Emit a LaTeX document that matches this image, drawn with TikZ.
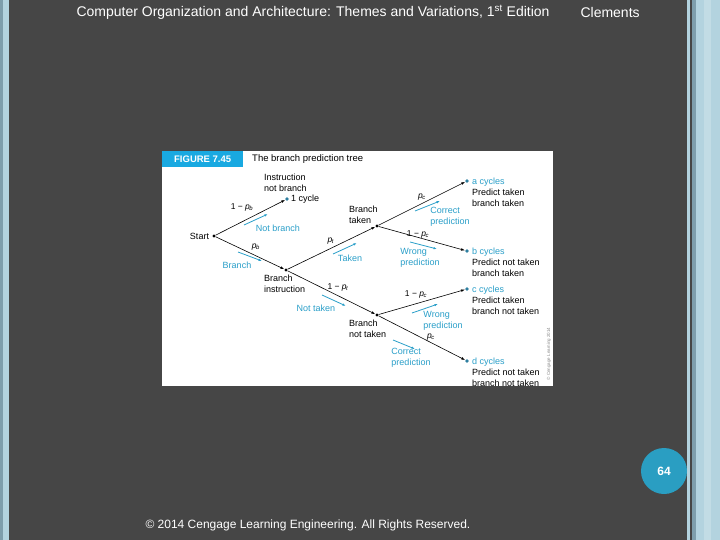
\documentclass[tikz,border=0pt]{standalone}
\usepackage{fontspec}
\setmainfont{Liberation Sans}
\usepackage{tikz}
\usetikzlibrary{arrows.meta, positioning}
\definecolor{slidebg}{HTML}{464646}
\definecolor{edgeblue}{HTML}{B3D3DF}
\definecolor{edgeslate}{HTML}{7E9EAC}
\definecolor{figblue}{HTML}{19A9E1}
\definecolor{hintcyan}{HTML}{2A9FC9}
\definecolor{leafblue}{HTML}{2E7FA0}
\definecolor{pagecirc}{HTML}{2A9EC2}
\newcommand{\prob}[1]{\textit{p}\textsubscript{\kern-0.5pt\textit{#1}}}

\begin{document}
\begin{tikzpicture}[
    x=1pt, y=-1pt,
    dot/.style={circle, fill=black, inner sep=0pt, minimum size=3.2pt},
    leaf/.style={circle, fill=leafblue, inner sep=0pt, minimum size=3.6pt},
    branch/.style={-{Latex[length=4pt,width=2.6pt]}, semithick},
    hint/.style={-{Latex[length=3.5pt,width=2.4pt]}, hintcyan, thick},
    lbl/.style={font=\fontsize{9}{11}\selectfont, inner sep=1pt},
    hlbl/.style={lbl, text=hintcyan},
    plbl/.style={font=\fontsize{8.5}{10}\selectfont, inner sep=0pt},
  ]
  \useasboundingbox (0,0) rectangle (720,540);
  % slide background and side strips
  \fill[slidebg] (0,0) rectangle (720,540);
  \fill[edgeslate] (0,0) rectangle (3,540);
  \fill[edgeblue] (3,0) rectangle (9,540);
  \fill[edgeblue] (687,0) rectangle (690,540);
  \fill[edgeslate] (692,0) rectangle (696,540);
  \fill[edgeblue] (696,0) rectangle (720,540);
  \fill[edgeblue!80!white] (704,0) rectangle (711,540);
  % slide header and footer
  \node[anchor=west, text=white, font=\fontsize{14}{16}\selectfont] (header) at (73,12)
    {Computer Organization and Architecture: Themes and Variations, 1\textsuperscript{st} Edition};
  \node[anchor=west, text=white, font=\fontsize{14}{16}\selectfont] (author) at (577,12) {Clements};
  \node[anchor=west, text=white, font=\fontsize{12}{14}\selectfont] (footer) at (142,525)
    {© 2014 Cengage Learning Engineering. All Rights Reserved.};
  \node[circle, fill=pagecirc, minimum size=46pt, inner sep=0pt, text=white,
    font=\fontsize{12}{14}\selectfont\bfseries] (pagenum) at (664,471) {64};
  % figure panel
  \fill[white] (162,151) rectangle (553,386);
  \node[fill=figblue, text=white, font=\fontsize{9.5}{11}\selectfont\bfseries,
    minimum width=81pt, minimum height=16pt, inner sep=0pt, anchor=north west] (fignum) at (162,151) {FIGURE 7.45};
  \node[lbl, anchor=west, font=\fontsize{9.5}{11}\selectfont] (figtitle) at (251,159) {The branch prediction tree};
  \node[rotate=90, anchor=west, text=black!45, font=\fontsize{4.5}{5}\selectfont] (credit) at (549,384)
    {© Cengage Learning 2014};
  % tree nodes
  \node[dot] (start) at (214,236) {};
  \node[leaf] (nobr) at (287,199) {};
  \node[dot] (brinstr) at (286,270) {};
  \node[dot] (taken) at (377,226) {};
  \node[dot] (nottaken) at (377,315) {};
  \node[leaf] (ca) at (467,181) {};
  \node[leaf] (cb) at (467,251) {};
  \node[leaf] (cc) at (467,289) {};
  \node[leaf] (cd) at (467,361) {};
  % branches
  \draw[branch] (start) -- (nobr);
  \draw[branch] (start) -- (brinstr);
  \draw[branch] (brinstr) -- (taken);
  \draw[branch] (brinstr) -- (nottaken);
  \draw[branch] (taken) -- (ca);
  \draw[branch] (taken) -- (cb);
  \draw[branch] (nottaken) -- (cc);
  \draw[branch] (nottaken) -- (cd);
  % node texts
  \node[lbl, left=2pt of start] (startlbl) {Start};
  \node[lbl, align=left, anchor=south west] (nobrlbl) at (263,192.5) {Instruction\\not branch};
  \node[lbl, right=1pt of nobr] (onecyc) {1 cycle};
  \node[lbl, align=left, anchor=north west] (brinstrlbl) at (263,274) {Branch\\instruction};
  \node[lbl, align=left, anchor=south west] (takenlbl) at (348,225) {Branch\\taken};
  \node[lbl, align=left, anchor=north west] (nottakenlbl) at (348,319) {Branch\\not taken};
  \foreach \leafnode/\cyc/\pred/\act in {ca/a/taken/taken, cb/b/not taken/taken,
      cc/c/taken/not taken, cd/d/not taken/not taken}
    \node[lbl, align=left, anchor=north west] (\leafnode lbl) at ([xshift=4pt, yshift=4pt]\leafnode)
      {\textcolor{hintcyan}{\cyc\ cycles}\\Predict \pred\\branch \act};
  % probabilities
  \node[plbl] (pnb) at (242,207) {1 − \prob{b}};
  \node[plbl] (pb) at (256,247) {\prob{b}};
  \node[plbl] (pt) at (331,241) {\prob{t}};
  \node[plbl] (pnt) at (338,287) {1 − \prob{t}};
  \node[plbl] (pca) at (422,197) {\prob{c}};
  \node[plbl] (pcb) at (418,234) {1 − \prob{c}};
  \node[plbl] (pcc) at (416,294) {1 − \prob{c}};
  \node[plbl] (pcd) at (431,337) {\prob{c}};
  % cyan outcome texts
  \node[hlbl] (hnobr) at (278,228) {Not branch};
  \node[hlbl] (hbr) at (237,265) {Branch};
  \node[hlbl] (htaken) at (350,258) {Taken};
  \node[hlbl] (hnottaken) at (316,308) {Not taken};
  \node[hlbl, align=left] (hca) at (450,217) {Correct\\prediction};
  \node[hlbl, align=left] (hcb) at (420,258) {Wrong\\prediction};
  \node[hlbl, align=left] (hcc) at (443,321) {Wrong\\prediction};
  \node[hlbl, align=left] (hcd) at (411,358) {Correct\\prediction};
  % cyan direction arrows
  \foreach \i/\xa/\ya/\xb/\yb in {1/244/225/268/214, 2/238/252/262/261, 3/333/254/357/243,
      4/322/295/346/306, 5/415/211/440/201, 6/410/242/437/249, 7/412/313/438/304,
      8/393/340/415/349} {
    \coordinate (ha\i) at (\xa,\ya);
    \coordinate (hb\i) at (\xb,\yb);
    \draw[hint] (ha\i) -- (hb\i);
  }
\end{tikzpicture}
\end{document}
